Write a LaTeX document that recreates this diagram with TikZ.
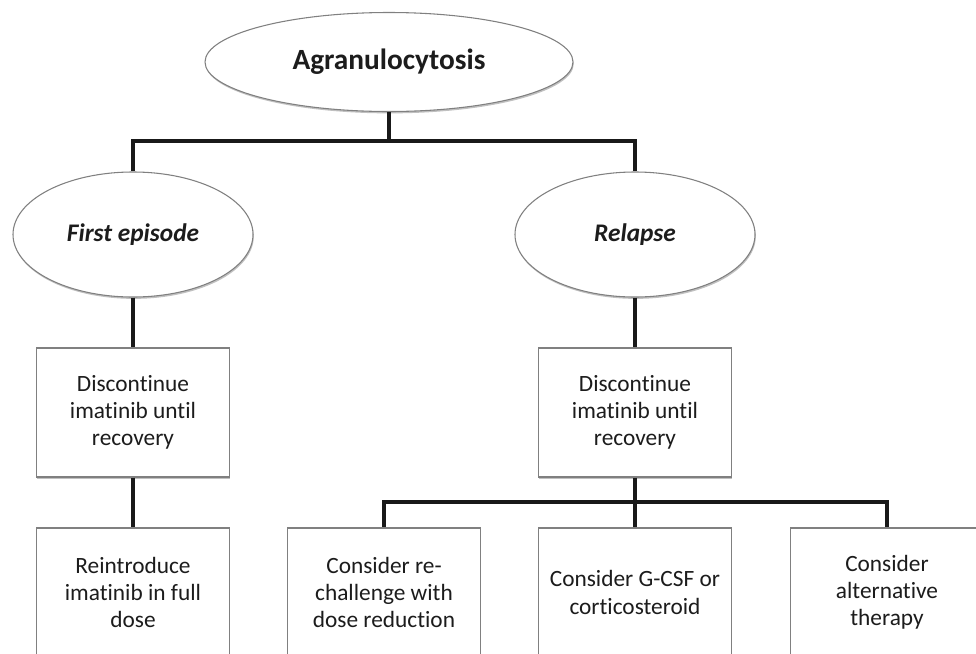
\documentclass[tikz,border=0pt]{standalone}
\usepackage{fontspec}
\setmainfont{Carlito}[RawFeature=-liga]
\usetikzlibrary{shapes.geometric,shadows}
\definecolor{textgrau}{HTML}{1C1C1C}
\tikzset{
  schatten/.style={drop shadow={shadow xshift=0.6pt,shadow yshift=-1.4pt,opacity=0.35,fill=black!70}},
  oval/.style={ellipse,draw=black!50,line width=0.8pt,fill=white,schatten,text=textgrau,inner sep=0pt},
  kasten/.style={rectangle,draw=black!50,line width=0.8pt,fill=white,schatten,text=textgrau,align=center,
    minimum width=144.75pt,minimum height=96.75pt,inner sep=0pt,font=\fontsize{17.5}{20.3}\selectfont},
  link/.style={line width=2.6pt,black!90}
}
\begin{document}
\begin{tikzpicture}[x=0.75pt,y=-0.75pt]
  \clip (0,0) rectangle (976,654);
  \fill[white] (0,0) rectangle (976,654);
  % Wurzel
  \node[oval,minimum width=276pt,minimum height=74.25pt,font=\fontsize{22}{26}\selectfont\bfseries]
    (agran) at (389,62) {Agranulocytosis};
  % Episoden
  \node[oval,minimum width=180pt,minimum height=93.75pt,font=\fontsize{19}{23}\selectfont\bfseries\itshape]
    (first) at (133,234.5) {First episode};
  \node[oval,minimum width=180pt,minimum height=93.75pt,font=\fontsize{19}{23}\selectfont\bfseries\itshape]
    (relapse) at (635,234.5) {Relapse};
  % Absetzen
  \node[kasten] (stopfirst) at (133,412.5) {Discontinue\\imatinib until\\recovery};
  \node[kasten] (stoprelapse) at (635,412.5) {Discontinue\\imatinib until\\recovery};
  % Massnahmen
  \node[kasten] (reintro) at (133,592.5) {Reintroduce\\imatinib in full\\dose};
  \node[kasten] (rechallenge) at (384,592.5) {Consider re-\\challenge with\\dose reduction};
  \node[kasten] (gcsf) at (635,592.5) {Consider G-CSF or\\corticosteroid};
  \node[kasten] (altern) at (887,592.5) {Consider\\alternative\\therapy};
  % Verbindungen
  \coordinate (forktop) at (389,141);
  \coordinate (forkrel) at (635,502);
  \draw[link] (agran) -- (forktop) -| (first);
  \draw[link] (forktop) -| (relapse);
  \draw[link] (first) -- (stopfirst);
  \draw[link] (stopfirst) -- (reintro);
  \draw[link] (relapse) -- (stoprelapse);
  \draw[link] (stoprelapse) -- (forkrel) -| (rechallenge);
  \draw[link] (forkrel) -| (altern);
  \draw[link] (forkrel) -- (gcsf);
\end{tikzpicture}
\end{document}
